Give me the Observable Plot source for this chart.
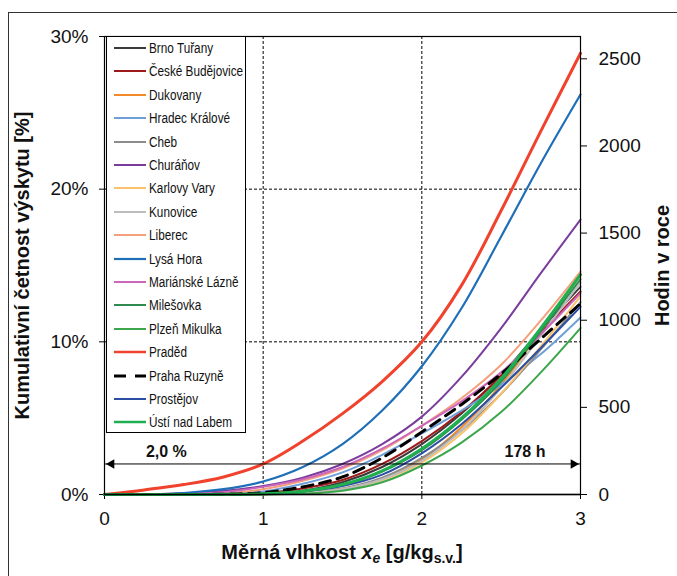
<!DOCTYPE html>
<html>
<head>
<meta charset="utf-8">
<script src="https://cdn.jsdelivr.net/npm/d3@7"></script>
<script src="https://cdn.jsdelivr.net/npm/@observablehq/plot@0.6"></script>
<style>
  html, body { margin: 0; padding: 0; background: #fff; }
  #wrap { position: relative; width: 677px; height: 576px; overflow: hidden; font-family: "Liberation Sans Narrow", "Arial Narrow", "Liberation Sans", Arial, sans-serif; }
  #border { position: absolute; left: 8px; top: 12px; width: 700px; height: 600px; border-left: 1px solid #333; border-top: 1px solid #333; pointer-events: none; }
  #chart { position: absolute; left: 0; top: 0; }
  #legend { position: absolute; left: 106px; top: 36px; width: 140px; height: 397px; background: #fff; border: 1px solid #000; box-sizing: border-box; }
  .row { position: absolute; left: 6px; height: 16px; display: flex; align-items: center; font-size: 14px; color: #111; white-space: nowrap; }
  .row svg { margin-right: 2px; flex: none; }
  .row span { display: inline-block; transform: scaleX(0.84); transform-origin: left center; }
</style>
</head>
<body>
<div id="wrap">
  <div id="chart"></div>
  <div id="legend"></div>
  <div id="border"></div>
</div>
<script>
// ---- data ----
const xs = [0, 0.25, 0.5, 0.75, 1, 1.25, 1.5, 1.75, 2, 2.25, 2.5, 2.75, 3];

const stations = ["Brno Tuřany", "České Budějovice", "Dukovany", "Hradec Králové", "Cheb", "Churáňov",
  "Karlovy Vary", "Kunovice", "Liberec", "Lysá Hora", "Mariánské Lázně", "Milešovka", "Plzeň Mikulka",
  "Praděd", "Praha Ruzyně", "Prostějov", "Ústí nad Labem"];

const colors = ["#3a3a3a", "#9e1a1a", "#f28a2a", "#6f9fd8", "#8c8c8c", "#7a3d9c",
  "#fbc26c", "#bcbcbc", "#f4a07c", "#1f6fb8", "#cc66bb", "#2e8a4e", "#3ca64a",
  "#f0422c", "#000000", "#2c4ea2", "#1fae50"];

const widths = [2, 2, 2, 2, 2, 2, 2, 2, 2, 2.2, 2, 2, 2, 3, 3, 2, 3];
const dashes = [null, null, null, null, null, null, null, null, null, null, null, null, null, null, "11,7", null, null];

const brnoTurany      = [0, 0, 0, 0.01, 0.05, 0.25, 0.8, 1.8, 3.3, 5.3, 7.8, 10.8, 13.6];
const ceskeBudejovice = [0, 0, 0, 0.02, 0.1, 0.4, 0.95, 2.0, 3.5, 5.4, 7.8, 10.6, 13.3];
const dukovany        = [0, 0, 0, 0, 0.02, 0.1, 0.35, 1.0, 2.3, 4.4, 7.2, 10.7, 14.4];
const hradecKralove   = [0, 0, 0, 0.05, 0.2, 0.7, 1.45, 2.6, 4.0, 5.5, 7.2, 9.2, 11.6];
const cheb            = [0, 0, 0, 0, 0.02, 0.12, 0.4, 1.1, 2.4, 4.2, 6.6, 9.5, 12.6];
const churanov        = [0, 0.02, 0.08, 0.25, 0.55, 1.1, 2.0, 3.3, 5.1, 7.7, 10.9, 14.5, 18.0];
const karlovyVary     = [0, 0, 0, 0, 0.02, 0.1, 0.35, 0.95, 2.1, 4.0, 6.6, 9.7, 13.0];
const kunovice        = [0, 0, 0, 0, 0.02, 0.1, 0.35, 1.0, 2.2, 4.2, 7.0, 10.4, 13.9];
const liberec         = [0, 0, 0.01, 0.08, 0.35, 0.9, 1.7, 2.9, 4.5, 6.3, 8.5, 11.4, 14.6];
const lysaHora        = [0, 0.02, 0.1, 0.35, 0.85, 1.8, 3.3, 5.5, 8.4, 12.2, 16.9, 21.7, 26.2];
const marianskeLazne  = [0, 0, 0.02, 0.15, 0.5, 1.0, 1.8, 3.0, 4.5, 6.1, 8.0, 10.5, 13.2];
const milesovka       = [0, 0, 0, 0.01, 0.05, 0.2, 0.6, 1.5, 2.9, 4.9, 7.4, 10.7, 14.1];
const plzenMikulka    = [0, 0, 0, 0, 0.01, 0.06, 0.25, 0.8, 1.9, 3.4, 5.4, 8.0, 10.9];
const praded          = [0, 0.3, 0.65, 1.15, 2.0, 3.5, 5.3, 7.4, 10.0, 13.7, 18.6, 23.8, 28.9];
const prahaRuzyne     = [0, 0, 0, 0.02, 0.12, 0.5, 1.15, 2.4, 4.1, 5.9, 7.9, 10.2, 12.5];
const prostejov       = [0, 0, 0, 0.01, 0.05, 0.2, 0.55, 1.3, 2.7, 4.6, 7.0, 9.6, 12.3];
const ustiNadLabem    = [0, 0, 0, 0.01, 0.05, 0.22, 0.65, 1.55, 3.0, 5.0, 7.6, 10.9, 14.4];

const seriesValues = [brnoTurany, ceskeBudejovice, dukovany, hradecKralove, cheb, churanov,
  karlovyVary, kunovice, liberec, lysaHora, marianskeLazne, milesovka, plzenMikulka,
  praded, prahaRuzyne, prostejov, ustiNadLabem];

const pctTicks = [0, 10, 20, 30];
const hourTicks = [0, 500, 1000, 1500, 2000, 2500];
const hoursPerPct = 87.6; // 8760 h / 100 %
const xTicks = [0, 1, 2, 3];
const gridXValues = [1, 2];
const gridYValues = [10, 20];

// annotation: 2 % level arrow
const arrowLevel = [{x1: 0, x2: 3, y: 2.0}];
const arrowLabels = [{x: 0.39, y: 2.0, text: "2,0 %"}, {x: 2.65, y: 2.0, text: "178 h"}];

// ---- build ----
const font = '"Liberation Sans Narrow", "Arial Narrow", "Liberation Sans", Arial, sans-serif';

const lineMarks = stations.map((name, i) =>
  Plot.line(xs.map((x, j) => ({x, y: seriesValues[i][j]})), {
    x: "x", y: "y", curve: "catmull-rom",
    stroke: colors[i], strokeWidth: widths[i],
    strokeDasharray: dashes[i] || undefined,
    strokeLinejoin: "round"
  })
);

const chart = Plot.plot({
  width: 677,
  height: 576,
  marginLeft: 104,
  marginRight: 97,
  marginTop: 36,
  marginBottom: 82,
  style: {fontFamily: font, fontSize: "19px", color: "#111", background: "transparent"},
  x: {domain: [0, 3]},
  y: {domain: [0, 30]},
  marks: [
    Plot.gridX(gridXValues, {stroke: "#000", strokeOpacity: 1, strokeDasharray: "3,2", strokeWidth: 1}),
    Plot.gridY(gridYValues, {stroke: "#000", strokeOpacity: 1, strokeDasharray: "3,2", strokeWidth: 1}),
    Plot.axisY({anchor: "left", ticks: pctTicks, tickFormat: d => d + "%", tickSize: 5, tickPadding: 11, label: null, stroke: "#000"}),
    Plot.axisY({anchor: "right", ticks: hourTicks.map(h => h / hoursPerPct), tickFormat: d => String(Math.round(d * hoursPerPct)), tickSize: 6, tickPadding: 12, label: null, stroke: "#000"}),
    Plot.axisX({ticks: xTicks, tickFormat: d => String(Math.round(d)), tickSize: 5, tickPadding: 12, label: null, stroke: "#000"}),
    ...lineMarks,
    Plot.frame({stroke: "#000", strokeWidth: 1.2}),
    Plot.ruleY([0], {stroke: "#000", strokeWidth: 1.5}),
    Plot.ruleY(arrowLevel, {x1: "x1", x2: "x2", y: "y", stroke: "#000", strokeWidth: 1}),
    Plot.dot(arrowLevel, {x: "x1", y: "y", symbol: "triangle2", r: 4.6, fill: "#000", stroke: null, rotate: -90, dx: 7}),
    Plot.dot(arrowLevel, {x: "x2", y: "y", symbol: "triangle2", r: 4.6, fill: "#000", stroke: null, rotate: 90, dx: -7}),
    Plot.text(arrowLabels, {x: "x", y: "y", text: "text", dy: -12, fontWeight: "bold", fontSize: 16, fill: "#111"}),
    Plot.text(["Kumulativní četnost výskytu [%]"], {frameAnchor: "left", text: d => d, rotate: -90, dx: -82, textAnchor: "middle", lineAnchor: "middle", fontWeight: "bold", fontSize: 20, fill: "#111"}),
    Plot.text(["Hodin v roce"], {frameAnchor: "right", text: d => d, rotate: -90, dx: 82, textAnchor: "middle", lineAnchor: "middle", fontWeight: "bold", fontSize: 20, fill: "#111"})
  ]
});

document.getElementById("chart").appendChild(chart);

// x-axis title with italic variable and subscripts
const svg = d3.select(chart);
const t = svg.append("text")
  .attr("x", 342).attr("y", 559)
  .attr("text-anchor", "middle")
  .attr("font-weight", "bold")
  .attr("font-size", 20)
  .attr("fill", "#111");
t.append("tspan").text("Měrná vlhkost ");
t.append("tspan").attr("font-style", "italic").text("x");
t.append("tspan").attr("font-size", 14).attr("dy", 4).attr("font-style", "italic").text("e");
t.append("tspan").attr("dy", -4).text(" [g/kg");
t.append("tspan").attr("font-size", 14).attr("dy", 4).text("s.v.");
t.append("tspan").attr("dy", -4).text("]");

// legend (HTML overlay)
const legend = document.getElementById("legend");
stations.forEach((name, i) => {
  const row = document.createElement("div");
  row.className = "row";
  row.style.top = (3 + i * 23.4) + "px";
  const sw = dashes[i] ? 3 : Math.min(widths[i], 2.5);
  row.innerHTML = `<svg width="34" height="10"><line x1="1" y1="5" x2="33" y2="5" stroke="${colors[i]}" stroke-width="${sw}" ${dashes[i] ? 'stroke-dasharray="12,9"' : ''}/></svg><span>${name}</span>`;
  legend.appendChild(row);
});
</script>
</body>
</html>
